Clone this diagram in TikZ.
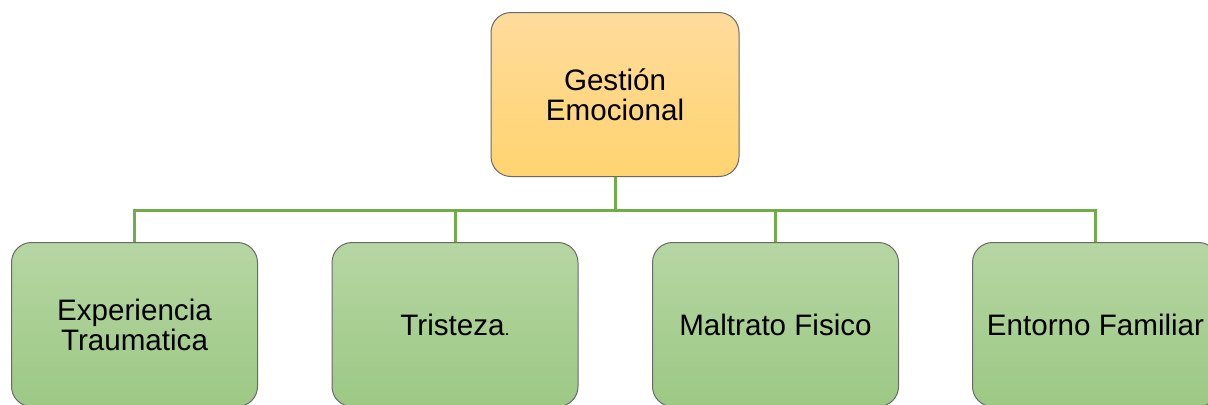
\documentclass[tikz,border=0pt]{standalone}
\usepackage{fontspec}
\setmainfont{Liberation Sans}
\definecolor{topA}{RGB}{255,219,156}
\definecolor{topB}{RGB}{255,212,112}
\definecolor{grnA}{RGB}{182,214,163}
\definecolor{grnB}{RGB}{156,200,132}
\definecolor{wire}{RGB}{112,173,71}
\definecolor{rim}{RGB}{105,105,105}
\begin{document}
\begin{tikzpicture}[x=0.5pt,y=-0.5pt,
		box/.style={draw=rim, line width=0.5pt, rounded corners=10pt, align=center,
			minimum width=123pt, minimum height=82pt, inner sep=0pt,
			font=\fontsize{14.8}{15}\selectfont},
		rootbox/.style={box, top color=topA, bottom color=topB, minimum width=124pt},
		leafbox/.style={box, top color=grnA, bottom color=grnB},
		link/.style={draw=wire, line width=1.5pt}]
		\useasboundingbox (0,0) rectangle (1208,404);
		% top
		\node [rootbox] (gestion) at (615,94.5) {Gestión\\Emocional};
		% children
		\node [leafbox] (exper) at (134.5,324.5) {Experiencia\\Traumatica};
		\node [leafbox] (trist) at (455,324.5) {Tristeza{\fontsize{9}{10}\selectfont.}};
		\node [leafbox] (maltr) at (775.5,324.5) {Maltrato Fisico};
		\node [leafbox] (entor) at (1095.5,324.5) {Entorno Familiar};
		% connectors
		\coordinate (bus) at (615,210);
		\draw [link] (gestion.south) -- (bus);
		\foreach \n in {exper,trist,maltr,entor}
			\draw [link] (\n.north) |- (bus);
\end{tikzpicture}
\end{document}
